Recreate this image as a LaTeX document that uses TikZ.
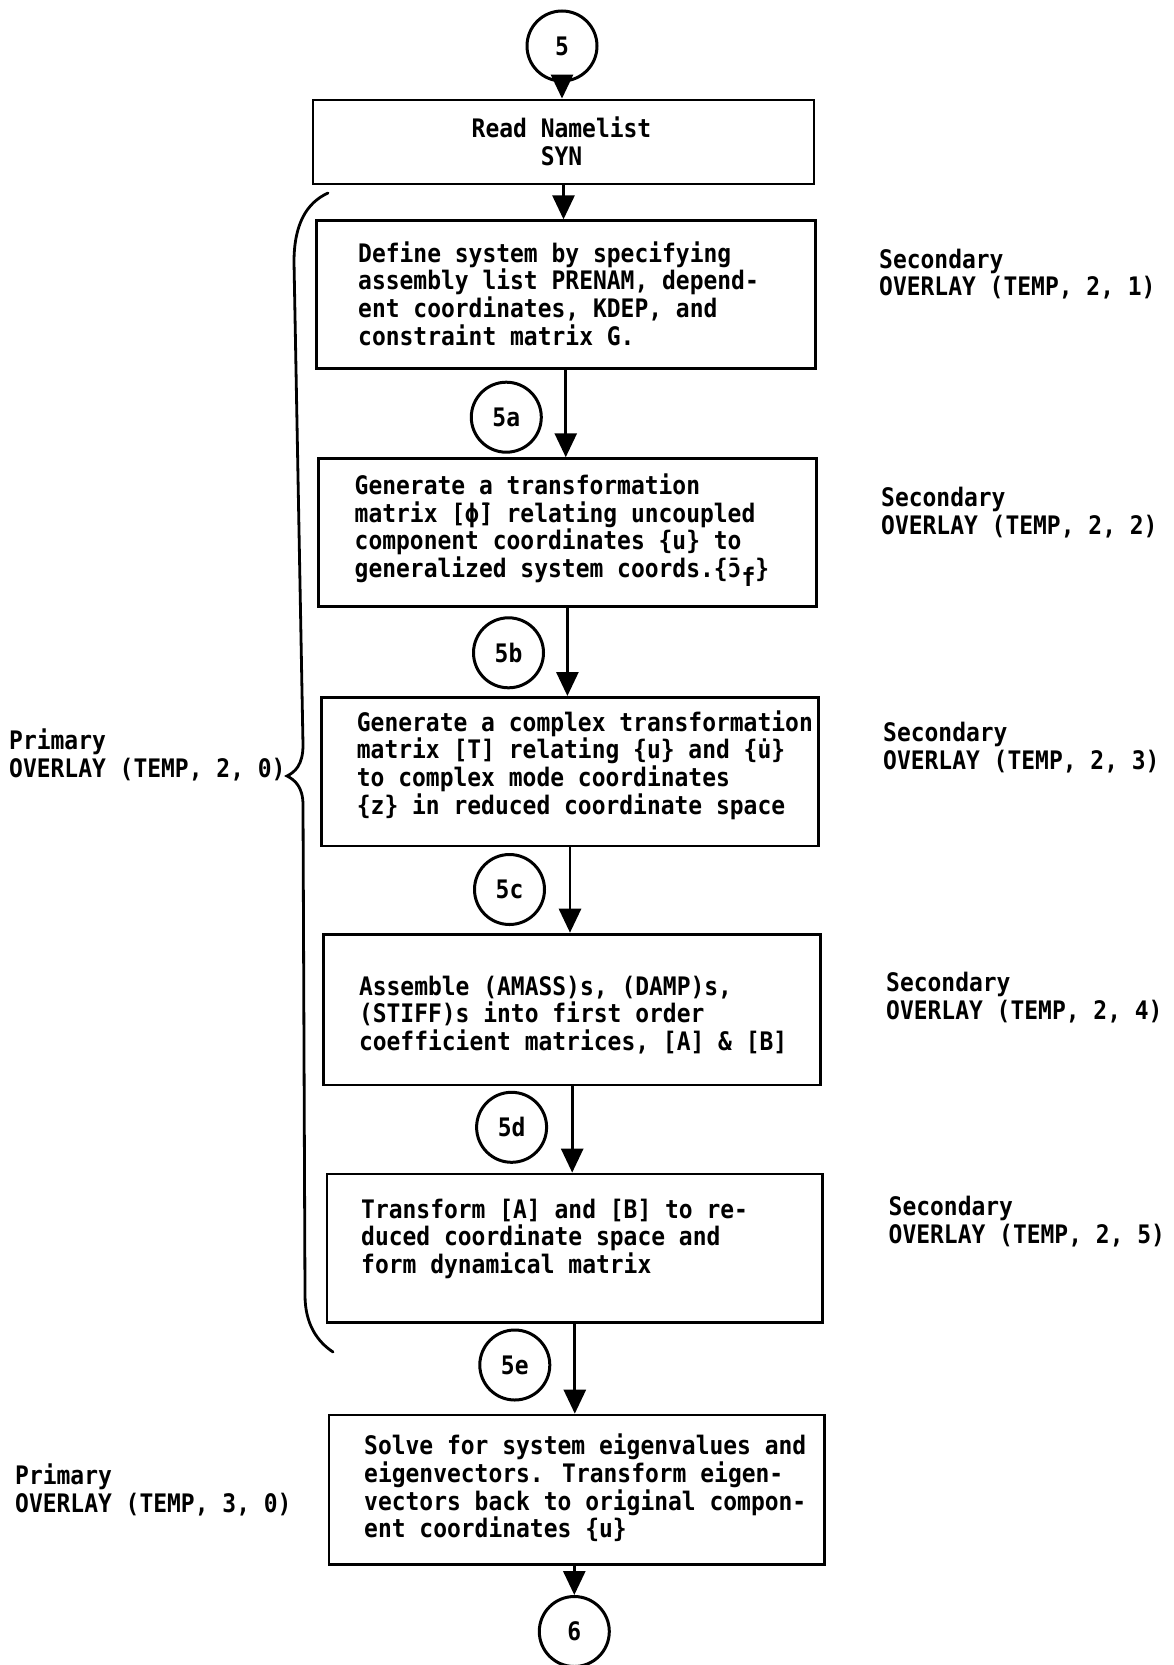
\documentclass[tikz,border=0pt]{standalone}
\usepackage{fontspec}
\newfontfamily\twfam[FakeStretch=0.9]{DejaVu Sans Mono}
\newcommand\myfont{\twfam\bfseries\fontsize{25.5pt}{27.7pt}\selectfont}
\usetikzlibrary{arrows.meta,calc}
\begin{document}
\begin{tikzpicture}[x=1pt,y=-1pt,
  boxnode/.style={draw, line width=2.8pt, inner sep=0pt},
  txt/.style={font=\myfont, align=left, inner sep=0pt, anchor=west},
  circnode/.style={draw, circle, line width=3pt, minimum size=70pt, inner sep=0pt, font=\myfont},
  arr/.style={line width=2.8pt, -{Triangle[width=22pt,length=24pt]}},
  bracepath/.style={line width=2.8pt, line cap=round}]
\useasboundingbox (0,0) rectangle (1174,1665);

% boxes
\node[boxnode, minimum width=501pt, minimum height=84pt]    (b1) at (563.5,142) {};
\node[boxnode, minimum width=499pt, minimum height=147.5pt] (b2) at (565.75,294.5) {};
\node[boxnode, minimum width=498pt, minimum height=147.5pt] (b3) at (567.4,532.4) {};
\node[boxnode, minimum width=497pt, minimum height=148.6pt] (b4) at (570,771.7) {};
\node[boxnode, minimum width=496.7pt, minimum height=150.8pt] (b5) at (572.2,1009.5) {};
\node[boxnode, minimum width=495.8pt, minimum height=148.6pt] (b6) at (574.8,1248.3) {};
\node[boxnode, minimum width=495.8pt, minimum height=149.7pt] (b7) at (576.9,1489.9) {};

% box texts
\node[font=\myfont, align=center, inner sep=0pt] (t1) at (561.5,141) {Read Namelist\\SYN};
\node[txt] (t2) at (358,293.5) {Define system by specifying\\assembly list PRENAM, depend-\\ent coordinates, KDEP, and\\constraint matrix G.};
\node[txt] (t3) at (354.5,530) {Generate a transformation\\matrix [ϕ̄] relating uncoupled\\component coordinates \{u\} to\\generalized system coords.\{ɔ̄\raisebox{-9pt}{f}\}};
\node[txt] (t4) at (356.7,765) {Generate a complex transformation\\matrix [T] relating \{u\} and \{u̇\}\\to complex mode coordinates\\\{z\} in reduced coordinate space};
\node[txt] (t5) at (358.8,1014.8) {Assemble (AMASS)s, (DAMP)s,\\(STIFF)s into first order\\coefficient matrices, [A] \& [B]};
\node[txt] (t6) at (361,1238.8) {Transform [A] and [B] to re-\\duced coordinate space and\\form dynamical matrix};
\node[txt] (t7) at (364,1488) {Solve for system eigenvalues and\\eigenvectors. Transform eigen-\\vectors back to original compon-\\ent coordinates \{u\}};

% circles
\node[circnode] (c5)  at (562,46) {5};
\node[circnode] (c5a) at (506.3,417.2) {5a};
\node[circnode] (c5b) at (508.5,652.8) {5b};
\node[circnode] (c5c) at (509.5,889.5) {5c};
\node[circnode] (c5d) at (511.6,1127.3) {5d};
\node[circnode] (c5e) at (514.8,1365) {5e};
\node[circnode] (c6)  at (574.3,1631.5) {6};

% side labels
\node[txt] (s1) at (879,274) {Secondary\\OVERLAY (TEMP, 2, 1)};
\node[txt] (s2) at (881,512.7) {Secondary\\OVERLAY (TEMP, 2, 2)};
\node[txt] (s3) at (883,747.8) {Secondary\\OVERLAY (TEMP, 2, 3)};
\node[txt] (s4) at (886,997.3) {Secondary\\OVERLAY (TEMP, 2, 4)};
\node[txt] (s5) at (888.5,1221.3) {Secondary\\OVERLAY (TEMP, 2, 5)};
\node[txt] (p1) at (9,755) {Primary\\OVERLAY (TEMP, 2, 0)};
\node[txt] (p2) at (15,1490) {Primary\\OVERLAY (TEMP, 3, 0)};

% connectors
\draw[arr] (c5.south) -- (c5.south |- b1.north);
\draw[arr] (b1.south) -- (b1.south |- b2.north);
\draw[arr] (b2.south) -- (b2.south |- b3.north);
\draw[arr] (b3.south) -- (b3.south |- b4.north);
\draw[arr] (b4.south) -- (b4.south |- b5.north);
\draw[arr] (b5.south) -- (b5.south |- b6.north);
\draw[arr] (b6.south) -- (b6.south |- b7.north);
\draw[arr] (c6.north |- b7.south) -- (c6.north);

% brace
\draw[bracepath] (328,193) .. controls (306,203) and (294,225) .. (294,262)
  -- (303,745) .. controls (303,765) and (295,772) .. (287,776)
  .. controls (295,780) and (303,787) .. (303,805)
  -- (305,1295) .. controls (305,1325) and (318,1342) .. (333,1352);
\end{tikzpicture}
\end{document}
